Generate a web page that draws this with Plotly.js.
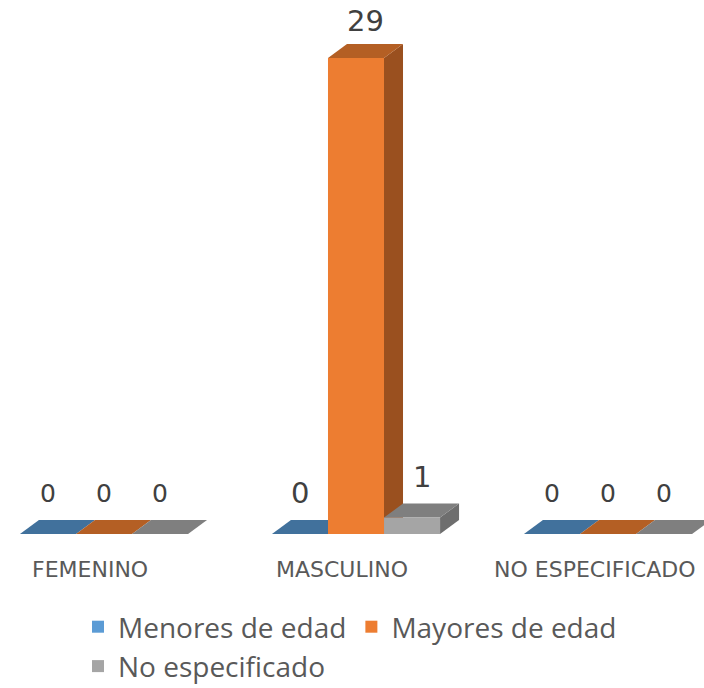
<!DOCTYPE html>
<html>
<head>
<meta charset="utf-8">
<script src="https://cdn.plot.ly/plotly-3.0.1.min.js"></script>
<style>html,body{margin:0;padding:0;background:#fff;}#chart{width:704px;height:688px;}</style>
</head>
<body>
<div id="chart"></div>
<script>
// ---- data ----
var categories = ["FEMENINO", "MASCULINO", "NO ESPECIFICADO"];
var seriesNames = ["Menores de edad", "Mayores de edad", "No especificado"];
var menores = [0, 0, 0];
var mayores = [0, 29, 0];
var noEspecificado = [0, 1, 0];
var seriesValues = [menores, mayores, noEspecificado];

// ---- style ----
var frontColors = ["#5B9BD5", "#ED7D31", "#A5A5A5"];
var topColors = ["#41719C", "#B45F24", "#7F7F7F"];
var sideColors = ["#3A6690", "#9A501F", "#6E6E6E"];
var FONT = "Open Sans, Noto Sans, sans-serif";
var LABELFONT = "DejaVu Sans, sans-serif";
var bargap = 0.333;
var bw = (1 - bargap) / 3;
var pxPerX = 252, pxPerY = 16.414;
var ddx = 19 / pxPerX, ddy = 14 / pxPerY;
var xr = [-104 / pxPerX, -104 / pxPerX + 704 / pxPerX];
var yr = [-(600 - 534) / pxPerY, 534 / pxPerY];

var traces = [];
var idx = categories.map(function (c, i) { return i; });
// depth faces (sides and tops), drawn left to right
idx.forEach(function (i) {
  seriesValues.forEach(function (vals, j) {
    var v = vals[i];
    var xc = i + (j - 1) * bw, x0 = xc - bw / 2, x1 = xc + bw / 2;
    if (v > 0) {
      traces.push({type: "scatter", mode: "lines", fill: "toself", line: {width: 0},
        fillcolor: sideColors[j], hoverinfo: "skip", showlegend: false,
        x: [x1, x1 + ddx, x1 + ddx, x1, x1], y: [0, ddy, v + ddy, v, 0]});
    }
    traces.push({type: "scatter", mode: "lines", fill: "toself", line: {width: 0},
      fillcolor: topColors[j], hoverinfo: "skip", showlegend: false,
      x: [x0, x1, x1 + ddx, x0 + ddx, x0], y: [v, v, v + ddy, v + ddy, v]});
  });
});
// front faces (bars) on overlaying axis
seriesValues.forEach(function (vals, j) {
  traces.push({type: "bar", name: seriesNames[j], x: idx, y: vals, xaxis: "x2", yaxis: "y",
    marker: {color: frontColors[j], line: {width: 0}}, hoverinfo: "skip"});
});

var annotations = [];
idx.forEach(function (i) {
  seriesValues.forEach(function (vals, j) {
    var v = vals[i];
    var xc = i + (j - 1) * bw + (v > 0 ? ddx / 2 : 0);
    annotations.push({x: xc, y: v, xref: "x", yref: "y", text: String(v),
      showarrow: false, yshift: v > 20 ? 37 : 41, yanchor: "middle",
      font: {family: LABELFONT, size: i === 1 ? 29 : 25, color: "#404040"}});
  });
  annotations.push({x: i, y: 0, xref: "x", yref: "y", text: categories[i], showarrow: false,
    xshift: -14, yshift: -35, yanchor: "middle",
    font: {family: LABELFONT, size: 22, color: "#595959"}});
});

var axisHidden = {visible: false, showgrid: false, zeroline: false, fixedrange: true};
var layout = {
  width: 704, height: 688,
  margin: {l: 0, r: 0, t: 0, b: 88, pad: 0},
  paper_bgcolor: "#ffffff", plot_bgcolor: "#ffffff",
  barmode: "group", bargap: bargap, bargroupgap: 0,
  xaxis: Object.assign({range: xr}, axisHidden),
  xaxis2: Object.assign({range: xr, overlaying: "x", anchor: "y"}, axisHidden),
  yaxis: Object.assign({range: yr}, axisHidden),
  showlegend: true,
  legend: {orientation: "h", xref: "container", yref: "container", x: 78 / 704, y: 1 - 602 / 688,
    xanchor: "left", yanchor: "top", bgcolor: "rgba(0,0,0,0)",
    font: {family: FONT, size: 28, color: "#595959"}},
  annotations: annotations
};
Plotly.newPlot("chart", traces, layout, {displayModeBar: false, staticPlot: true});
</script>
</body>
</html>
